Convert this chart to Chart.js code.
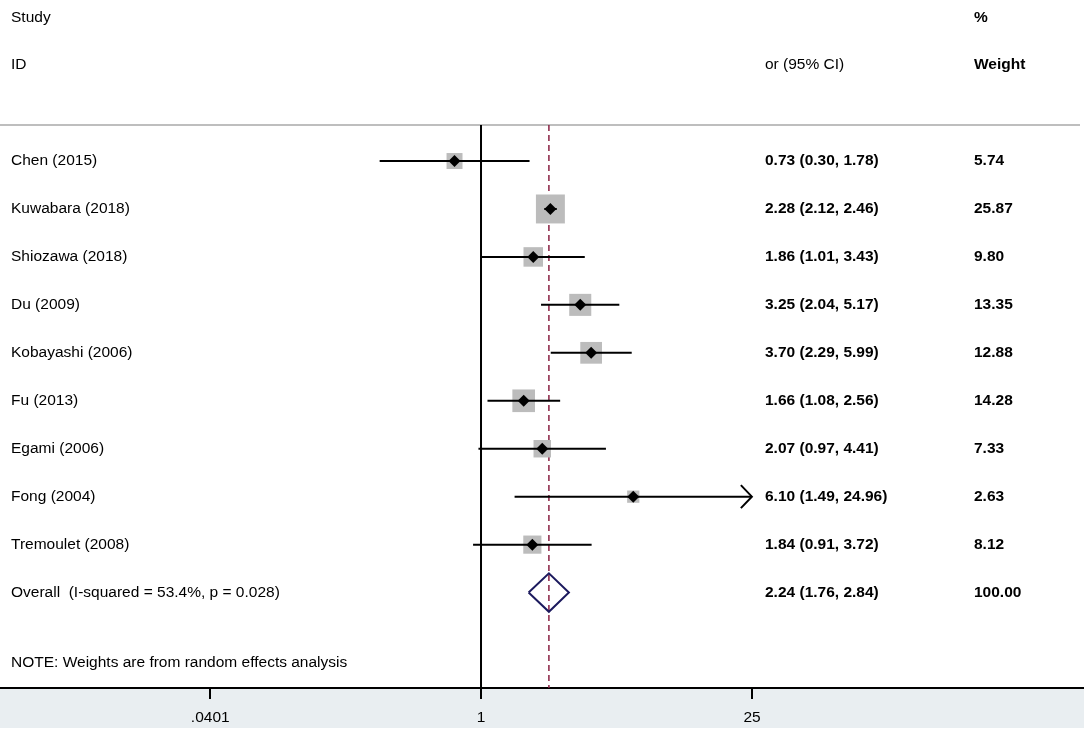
<!DOCTYPE html>
<html>
<head>
<meta charset="utf-8">
<script src="https://cdn.jsdelivr.net/npm/chart.js@4/dist/chart.umd.min.js"></script>
<style>
  html, body { margin: 0; padding: 0; background: #ffffff; }
  #wrap { width: 1084px; height: 734px; position: relative; }
</style>
</head>
<body>
<div id="wrap"><canvas id="c" width="1084" height="734"></canvas></div>
<script>
// ---- data ----
const studies = ["Chen (2015)", "Kuwabara (2018)", "Shiozawa (2018)", "Du (2009)", "Kobayashi (2006)",
                 "Fu (2013)", "Egami (2006)", "Fong (2004)", "Tremoulet (2008)"];
const orValues = [0.73, 2.28, 1.86, 3.25, 3.70, 1.66, 2.07, 6.10, 1.84];
const ciLower  = [0.30, 2.12, 1.01, 2.04, 2.29, 1.08, 0.97, 1.49, 0.91];
const ciUpper  = [1.78, 2.46, 3.43, 5.17, 5.99, 2.56, 4.41, 24.96, 3.72];
const weights  = [5.74, 25.87, 9.80, 13.35, 12.88, 14.28, 7.33, 2.63, 8.12];
const overallLabel = "Overall  (I-squared = 53.4%, p = 0.028)";
const overallEst = [2.24, 1.76, 2.84];   // estimate, lower, upper
const overallWeight = 100.00;
const tickValues = [0.0401, 1, 25];
const tickLabels = [".0401", "1", "25"];
const headerLeft = ["Study", "ID"];
const headerMid = "or (95% CI)";
const headerRight = ["%", "Weight"];
const noteText = "NOTE: Weights are from random effects analysis";

// ---- layout / style ----
const FONT = "'Liberation Sans', Arial, Helvetica, sans-serif";
const FS = 15.5;
const X_LABEL = 11, X_CI = 765, X_W = 974;
const ROW_STUDY = -2.983, ROW_ID = -2.002, ROW_SEP = -0.751, ROW_NOTE = 10.47;
const overallRow = studies.length;

function fmt(v) { return v.toFixed(2); }
function boxRadius(w) { return (4.4 + 4.83 * Math.sqrt(w)) / Math.SQRT2; }

const datasets = [];
// black diamonds (top)
datasets.push({
  type: 'scatter', order: 0,
  data: orValues.map((v, i) => ({ x: v, y: i })),
  pointStyle: 'rectRot', pointRadius: 6, pointHoverRadius: 6,
  backgroundColor: '#000000', borderWidth: 0
});
// CI lines
studies.forEach((s, i) => {
  datasets.push({
    type: 'scatter', order: 1, showLine: true,
    data: [{ x: ciLower[i], y: i }, { x: ciUpper[i], y: i }],
    borderColor: '#000000', borderWidth: 2, pointRadius: 0, pointHoverRadius: 0, fill: false
  });
});
// overall diamond
datasets.push({
  type: 'scatter', order: 1, showLine: true,
  data: [
    { x: overallEst[1], y: overallRow },
    { x: overallEst[0], y: overallRow - 0.4 },
    { x: overallEst[2], y: overallRow },
    { x: overallEst[0], y: overallRow + 0.4 },
    { x: overallEst[1], y: overallRow }
  ],
  borderColor: '#1c1a5e', borderWidth: 2, pointRadius: 0, pointHoverRadius: 0, fill: false,
  borderJoinStyle: 'miter'
});
// gray weight boxes
datasets.push({
  type: 'scatter', order: 2,
  data: orValues.map((v, i) => ({ x: v, y: i })),
  pointStyle: 'rect',
  pointRadius: weights.map(boxRadius),
  pointHoverRadius: weights.map(boxRadius),
  backgroundColor: '#bcbcbc', borderWidth: 0
});

const forestPlugin = {
  id: 'forest',
  beforeDraw(chart) {
    const ctx = chart.ctx, a = chart.chartArea;
    ctx.save();
    ctx.fillStyle = '#ffffff';
    ctx.fillRect(0, 0, chart.width, chart.height);
    ctx.fillStyle = '#e9eef1';
    ctx.fillRect(0, a.bottom, chart.width, 40);
    ctx.restore();
  },
  beforeDatasetsDraw(chart) {
    const ctx = chart.ctx, x = chart.scales.x, y = chart.scales.y, a = chart.chartArea;
    const ySep = y.getPixelForValue(ROW_SEP);
    ctx.save();
    // separator
    ctx.strokeStyle = '#a9a9a9'; ctx.lineWidth = 1.5;
    ctx.beginPath(); ctx.moveTo(a.left, ySep); ctx.lineTo(a.right - 4, ySep); ctx.stroke();
    // null line at 1
    const x1 = x.getPixelForValue(1);
    ctx.strokeStyle = '#000000'; ctx.lineWidth = 2;
    ctx.beginPath(); ctx.moveTo(x1, ySep); ctx.lineTo(x1, a.bottom); ctx.stroke();
    // overall dashed line
    const xo = x.getPixelForValue(overallEst[0]);
    ctx.strokeStyle = '#8a2143'; ctx.lineWidth = 1.5; ctx.setLineDash([6, 4]);
    ctx.beginPath(); ctx.moveTo(xo, ySep); ctx.lineTo(xo, a.bottom); ctx.stroke();
    ctx.restore();
  },
  afterDatasetsDraw(chart) {
    const ctx = chart.ctx, x = chart.scales.x, y = chart.scales.y;
    const maxTick = tickValues[tickValues.length - 1];
    ctx.save();
    // arrows for CIs beyond axis range
    ctx.strokeStyle = '#000000'; ctx.lineWidth = 2;
    ciUpper.forEach((hi, i) => {
      if (hi >= maxTick * 0.99) {
        const px = x.getPixelForValue(Math.min(hi, maxTick)), py = y.getPixelForValue(i);
        ctx.beginPath();
        ctx.moveTo(px - 11, py - 11.5); ctx.lineTo(px, py); ctx.lineTo(px - 11, py + 11.5);
        ctx.stroke();
      }
    });
    // texts
    ctx.fillStyle = '#000000';
    ctx.textBaseline = 'middle';
    ctx.textAlign = 'left';
    ctx.font = FS + "px " + FONT;
    ctx.fillText(headerLeft[0], X_LABEL, y.getPixelForValue(ROW_STUDY));
    ctx.fillText(headerLeft[1], X_LABEL, y.getPixelForValue(ROW_ID));
    ctx.fillText(headerMid, X_CI, y.getPixelForValue(ROW_ID));
    ctx.font = "bold " + FS + "px " + FONT;
    ctx.fillText(headerRight[0], X_W, y.getPixelForValue(ROW_STUDY));
    ctx.fillText(headerRight[1], X_W, y.getPixelForValue(ROW_ID));
    studies.forEach((s, i) => {
      const py = y.getPixelForValue(i);
      ctx.font = FS + "px " + FONT;
      ctx.fillText(s, X_LABEL, py);
      ctx.font = "bold " + FS + "px " + FONT;
      ctx.fillText(fmt(orValues[i]) + " (" + fmt(ciLower[i]) + ", " + fmt(ciUpper[i]) + ")", X_CI, py);
      ctx.fillText(fmt(weights[i]), X_W, py);
    });
    const po = y.getPixelForValue(overallRow);
    ctx.font = FS + "px " + FONT;
    ctx.fillText(overallLabel, X_LABEL, po);
    ctx.font = "bold " + FS + "px " + FONT;
    ctx.fillText(fmt(overallEst[0]) + " (" + fmt(overallEst[1]) + ", " + fmt(overallEst[2]) + ")", X_CI, po);
    ctx.fillText(fmt(overallWeight), X_W, po);
    ctx.font = FS + "px " + FONT;
    ctx.fillText(noteText, X_LABEL, y.getPixelForValue(ROW_NOTE));
    ctx.restore();
  }
};

new Chart(document.getElementById('c'), {
  type: 'scatter',
  data: { datasets },
  options: {
    responsive: false,
    animation: false,
    devicePixelRatio: 1,
    events: [],
    layout: { padding: 0, autoPadding: false },
    plugins: { legend: { display: false }, tooltip: { enabled: false } },
    scales: {
      x: {
        type: 'logarithmic',
        position: 'bottom',
        min: 0.003301,
        max: 1290,
        afterBuildTicks(scale) { scale.ticks = tickValues.map(v => ({ value: v })); },
        afterFit(scale) { scale.height = 46; },
        ticks: {
          autoSkip: false, maxRotation: 0,
          padding: 9,
          color: '#000000',
          font: { family: FONT, size: FS },
          callback(v) { const k = tickValues.indexOf(v); return k >= 0 ? tickLabels[k] : ''; }
        },
        grid: { display: true, drawOnChartArea: false, drawTicks: true, tickLength: 11, color: '#000000', lineWidth: 2 },
        border: { display: true, color: '#000000', width: 2 }
      },
      y: {
        type: 'linear', display: false, reverse: true,
        min: -3.358, max: 10.99
      }
    }
  },
  plugins: [forestPlugin]
});
</script>
</body>
</html>
